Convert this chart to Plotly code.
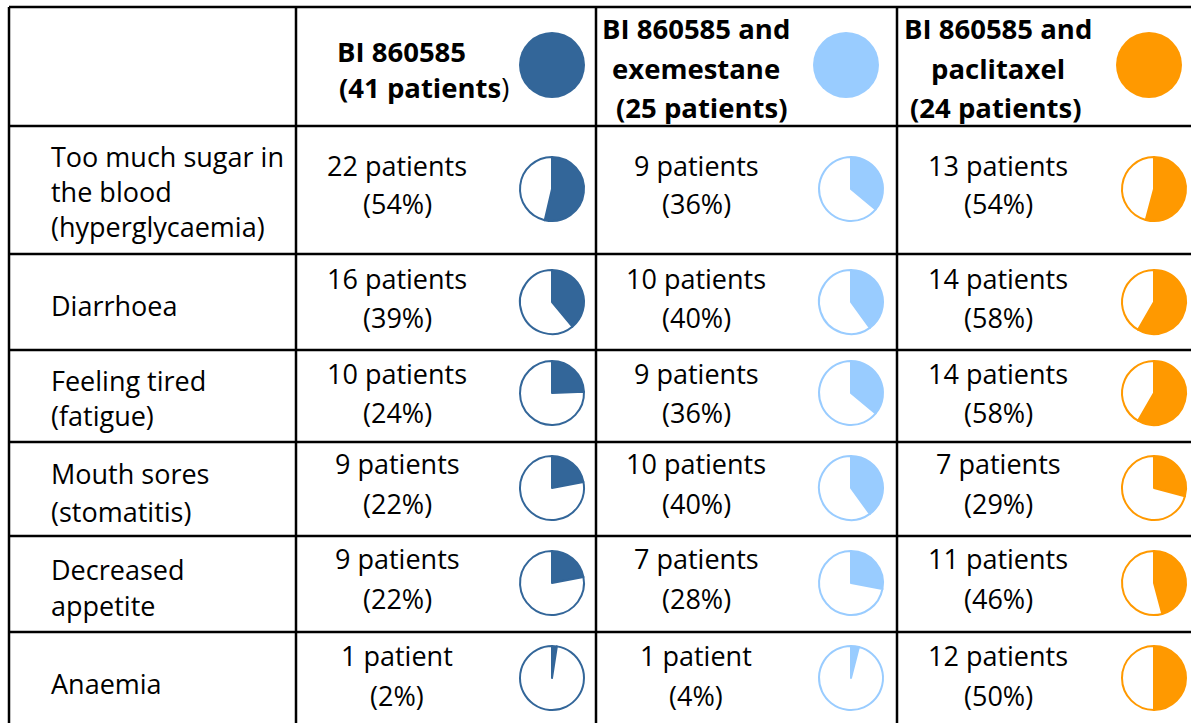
import plotly.graph_objects as go

# ---------------- data ----------------
arms = ["BI 860585", "BI 860585 and exemestane", "BI 860585 and paclitaxel"]
arm_totals = [41, 25, 24]
arm_colors = ["#336699", "#99CCFF", "#FF9900"]

events = [
    "Too much sugar in the blood (hyperglycaemia)",
    "Diarrhoea",
    "Feeling tired (fatigue)",
    "Mouth sores (stomatitis)",
    "Decreased appetite",
    "Anaemia",
]
event_lines = [
    ["Too much sugar in", "the blood", "(hyperglycaemia)"],
    ["Diarrhoea"],
    ["Feeling tired", "(fatigue)"],
    ["Mouth sores", "(stomatitis)"],
    ["Decreased", "appetite"],
    ["Anaemia"],
]
counts_bi = [22, 16, 10, 9, 9, 1]
counts_exe = [9, 10, 9, 10, 7, 1]
counts_pac = [13, 14, 14, 7, 11, 12]
counts = [counts_bi, counts_exe, counts_pac]

# ---------------- layout constants (pixels) ----------------
W, H = 1191, 723
FONT = "Open Sans"
FS = 27
FSB = 27.5
col_lines = [9, 296, 596, 897]
row_lines = [7, 126, 254, 350, 442, 536, 632]
text_cx = [397, 696, 998]
row_pie_cx = [552, 851, 1154]
head_pie_cx = [552, 846, 1149]
head_pie_cy = 65
row_pie_cy = [189, 302, 393, 488, 583, 678]
R = 32
label_x = 49
label_y = [[156, 191, 226], [305], [380, 415], [473, 511], [569, 605], [683]]
count_y = [165, 278, 373, 463, 558, 655]
pct_y = [203, 317, 412, 503, 598, 695]

fig = go.Figure()


def dom(cx, cy, r):
    return dict(x=[(cx - r) / W, (cx + r) / W],
                y=[1 - (cy + r) / H, 1 - (cy - r) / H])


# header pies (full)
for a in range(3):
    fig.add_trace(go.Pie(
        values=[arm_totals[a]], domain=dom(head_pie_cx[a], head_pie_cy, R + 1),
        marker=dict(colors=[arm_colors[a]], line=dict(width=0)),
        textinfo="none", sort=False, direction="clockwise", rotation=0,
        hoverinfo="skip", showlegend=False))

# row pies
for a in range(3):
    for i in range(len(events)):
        c = counts[a][i]
        fig.add_trace(go.Pie(
            values=[c, arm_totals[a] - c],
            domain=dom(row_pie_cx[a], row_pie_cy[i], R),
            marker=dict(colors=[arm_colors[a], "#FFFFFF"],
                        line=dict(color=arm_colors[a], width=2)),
            textinfo="none", sort=False, direction="clockwise", rotation=0,
            hoverinfo="skip", showlegend=False))

# grid lines
for x in col_lines:
    fig.add_shape(type="line", x0=x, x1=x, y0=row_lines[0], y1=H + 5,
                  xref="x", yref="y", line=dict(color="black", width=2.5))
for y in row_lines:
    fig.add_shape(type="line", x0=col_lines[0], x1=W + 5, y0=y, y1=y,
                  xref="x", yref="y", line=dict(color="black", width=2.5))


def ann(x, y, t, anchor="center", size=FS):
    fig.add_annotation(x=x, y=y, xref="x", yref="y", text=t, showarrow=False,
                       xanchor=anchor, yanchor="middle",
                       font=dict(family=FONT, size=size, color="black"))


# headers
ann(335, 51, "<b>BI 860585</b>", "left", FSB)
ann(337, 87, "<b>(%d patients</b>)" % arm_totals[0], "left", FSB)
ann(text_cx[1], 28, "<b>BI 860585 and</b>", size=FSB)
ann(text_cx[1], 68, "<b>exemestane</b>", size=FSB)
ann(text_cx[1] + 6, 107, "<b>(%d patients)</b>" % arm_totals[1], size=FSB)
ann(text_cx[2], 28, "<b>BI 860585 and</b>", size=FSB)
ann(text_cx[2], 68, "<b>paclitaxel</b>", size=FSB)
ann(text_cx[2] - 2, 107, "<b>(%d patients)</b>" % arm_totals[2], size=FSB)

# row labels
for i, lines in enumerate(event_lines):
    for ln, yy in zip(lines, label_y[i]):
        ann(label_x, yy, ln, "left")

# cell texts
for a in range(3):
    for i in range(len(events)):
        c = counts[a][i]
        word = "patient" if c == 1 else "patients"
        pct = round(100 * c / arm_totals[a])
        ann(text_cx[a], count_y[i], "%d %s" % (c, word))
        ann(text_cx[a], pct_y[i], "(%d%%)" % pct)

fig.update_layout(
    width=W, height=H,
    margin=dict(l=0, r=0, t=0, b=0),
    paper_bgcolor="white", plot_bgcolor="white",
    xaxis=dict(range=[0, W], visible=False, fixedrange=True),
    yaxis=dict(range=[H, 0], visible=False, fixedrange=True),
    showlegend=False,
)

fig.write_html(
    "out.html",
    config={"displayModeBar": False},
    post_script="document.body.style.margin='0';document.body.style.overflow='hidden';",
)
